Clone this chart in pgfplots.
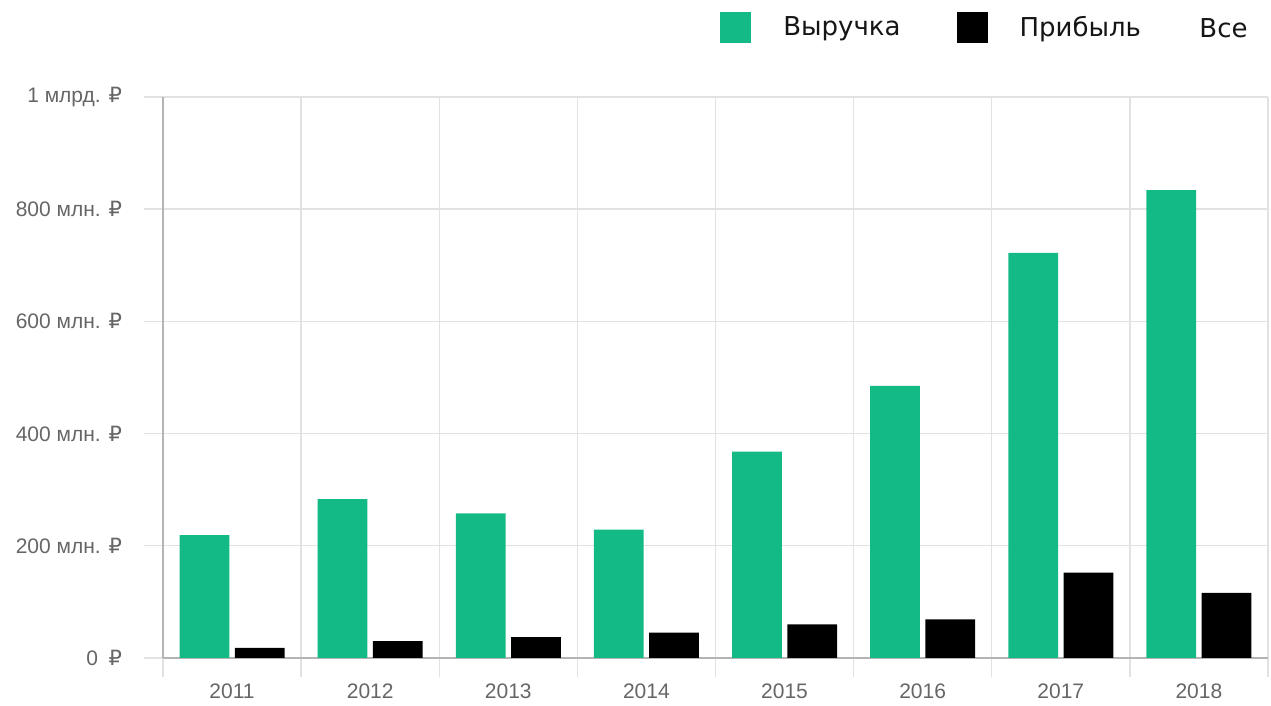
\documentclass[border=0pt]{standalone}
\usepackage{pgfplots}
\pgfplotsset{compat=1.18}
\usepackage{fontspec}
\setmainfont{Liberation Sans}
\newfontfamily\legfont{DejaVu Sans}
\newfontfamily\rubfont{DejaVu Sans}
\newcommand{\rub}{{\rubfont ₽}}
\definecolor{vyr}{HTML}{13BA86}
\definecolor{gridc}{HTML}{E2E2E2}
\definecolor{axc}{HTML}{B4B4B4}
\definecolor{labc}{HTML}{666666}
\definecolor{legc}{HTML}{151515}

% revenue and profit, mln roubles
\pgfplotstableread{
x rev prof
0 219 18
1 283 30
2 258 37
3 229 45
4 368 60
5 485 69
6 722 152
7 834 116
}\fin

\begin{document}
\begin{tikzpicture}
\path[use as bounding box] (0,0) rectangle (635.5pt,353pt);
\begin{axis}[
    at={(81.5pt,24pt)}, anchor=south west,
    scale only axis,
    width=552.5pt, height=280.5pt,
    xmin=-0.5, xmax=7.5,
    ymin=0, ymax=1000,
    clip mode=individual,
    axis x line*=bottom, axis y line*=left,
    axis line style={axc, line width=0.8pt},
    xtick={-0.5,0.5,...,7.5},
    xticklabels={},
    extra x ticks={0,1,...,7},
    extra x tick labels={2011,2012,2013,2014,2015,2016,2017,2018},
    extra x tick style={grid=none, tick style={draw=none}},
    ytick={0,200,...,1000},
    yticklabels={0\enspace\rub,200 млн. \rub,400 млн. \rub,600 млн. \rub,800 млн. \rub,1 млрд. \rub},
    yticklabel style={xshift=-7.5pt},
    xmajorgrids, ymajorgrids,
    grid style={gridc, line width=0.7pt},
    major tick style={gridc, line width=0.7pt},
    tick align=outside,
    major tick length=9.5pt,
    tick label style={font=\fontsize{10.5}{12}\selectfont, text=labc},
    /pgf/number format/assume math mode=true,
    legend style={draw=none, fill=none, inner sep=0pt,
        at={(0.504,1)}, anchor=west, yshift=34.5pt,
        font=\legfont\fontsize{13}{15}\selectfont, text=legc,
        /tikz/every even column/.append style={column sep=26pt},
        /tikz/every odd column/.append style={column sep=14pt}},
    legend columns=-1,
    legend image code/.code={\fill[#1] (0pt,-7.75pt) rectangle (15.5pt,7.75pt);},
]
\addplot[ybar, bar width=0.36, bar shift=-0.2, fill=vyr, draw=none] table[x=x, y=rev] {\fin};
\addlegendentry{Выручка}
\addplot[ybar, bar width=0.36, bar shift=0.2, fill=black, draw=none] table[x=x, y=prof] {\fin};
\addlegendentry{Прибыль}
\node[anchor=west, inner sep=0pt, font=\legfont\fontsize{13}{15}\selectfont, text=legc]
    at (rel axis cs:0.9376,1) [yshift=34.5pt] {Все};
\end{axis}
\end{tikzpicture}
\end{document}
